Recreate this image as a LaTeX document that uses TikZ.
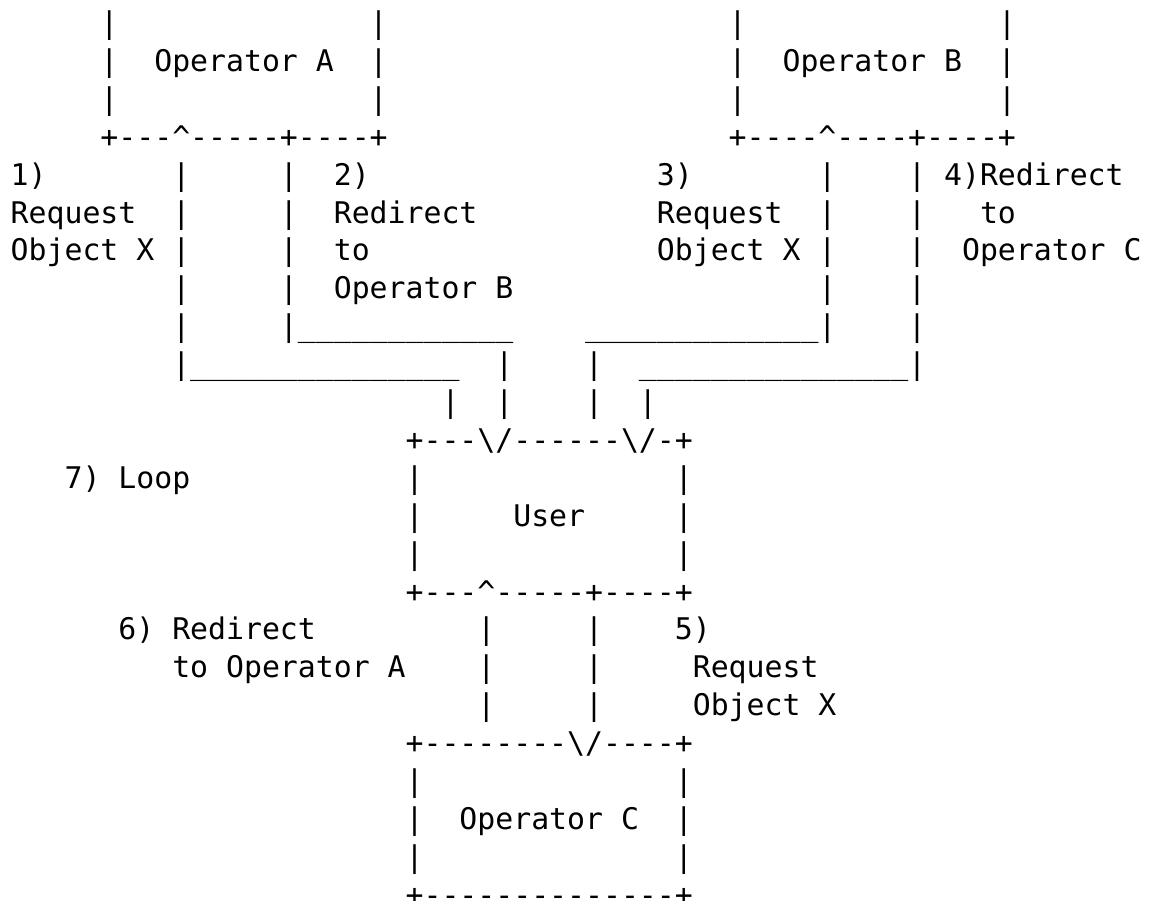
\documentclass[tikz,border=0pt]{standalone}
\usepackage{fontspec}
\setmonofont{DejaVu Sans Mono}
\newcommand\gap[1]{\kern\dimexpr#1\fontdimen2\font\relax}
\newcommand\placeasc[4]{\node[asc] (#1) at ({10.7+17.95*#2},{-33.5-37.9*#3}) {#4};}
\begin{document}
\begin{tikzpicture}[x=1pt,y=1pt,
  asc/.style={anchor=base west,inner sep=0pt,outer sep=0pt,text=black,
    font=\ttfamily\fontsize{29.82pt}{37.9pt}\selectfont}]
\useasboundingbox (0,0) rectangle (1157,-900);
% Operator A box
\placeasc{aR0}{5}{0}{|\gap{14}|}
\placeasc{aR1}{5}{1}{|\gap{2}Operator A\gap{2}|}
\placeasc{aR2}{5}{2}{|\gap{14}|}
\placeasc{aR3}{5}{3}{+---\textasciicircum-----+----+}
% Operator B box
\placeasc{bR0}{40}{0}{|\gap{14}|}
\placeasc{bR1}{40}{1}{|\gap{2}Operator B\gap{2}|}
\placeasc{bR2}{40}{2}{|\gap{14}|}
\placeasc{bR3}{40}{3}{+----\textasciicircum----+----+}
% left connectors
\placeasc{lc4}{9}{4}{|\gap{5}|}
\placeasc{lc5}{9}{5}{|\gap{5}|}
\placeasc{lc6}{9}{6}{|\gap{5}|}
\placeasc{lc7}{9}{7}{|\gap{5}|}
\placeasc{lc8}{9}{8}{|\gap{5}|\_\_\_\_\_\_\_\_\_\_\_\_}
\placeasc{lc9}{9}{9}{|\_\_\_\_\_\_\_\_\_\_\_\_\_\_\_\gap{2}|}
\placeasc{lc10}{24}{10}{|\gap{2}|}
% right connectors
\placeasc{rc4}{45}{4}{|\gap{4}|}
\placeasc{rc5}{45}{5}{|\gap{4}|}
\placeasc{rc6}{45}{6}{|\gap{4}|}
\placeasc{rc7}{45}{7}{|\gap{4}|}
\placeasc{rc8}{32}{8}{\_\_\_\_\_\_\_\_\_\_\_\_\_|\gap{4}|}
\placeasc{rc9}{32}{9}{|\gap{2}\_\_\_\_\_\_\_\_\_\_\_\_\_\_\_|}
\placeasc{rc10}{32}{10}{|\gap{2}|}
% step labels, top
\placeasc{s1a}{0}{4}{1)}
\placeasc{s1b}{0}{5}{Request}
\placeasc{s1c}{0}{6}{Object X}
\placeasc{s2a}{18}{4}{2)}
\placeasc{s2b}{18}{5}{Redirect}
\placeasc{s2c}{18}{6}{to}
\placeasc{s2d}{18}{7}{Operator B}
\placeasc{s3a}{36}{4}{3)}
\placeasc{s3b}{36}{5}{Request}
\placeasc{s3c}{36}{6}{Object X}
\placeasc{s4a}{52}{4}{4)Redirect}
\placeasc{s4b}{54}{5}{to}
\placeasc{s4c}{53}{6}{Operator C}
% User box
\placeasc{uR0}{22}{11}{+---\textbackslash/------\textbackslash/-+}
\placeasc{uR1}{22}{12}{|\gap{14}|}
\placeasc{uR2}{22}{13}{|\gap{5}User\gap{5}|}
\placeasc{uR3}{22}{14}{|\gap{14}|}
\placeasc{uR4}{22}{15}{+---\textasciicircum-----+----+}
\placeasc{s7}{3}{12}{7) Loop}
% lower connectors
\placeasc{dc16}{26}{16}{|\gap{5}|}
\placeasc{dc17}{26}{17}{|\gap{5}|}
\placeasc{dc18}{26}{18}{|\gap{5}|}
\placeasc{s6a}{6}{16}{6) Redirect}
\placeasc{s6b}{9}{17}{to Operator A}
\placeasc{s5a}{37}{16}{5)}
\placeasc{s5b}{38}{17}{Request}
\placeasc{s5c}{38}{18}{Object X}
% Operator C box
\placeasc{cR0}{22}{19}{+--------\textbackslash/----+}
\placeasc{cR1}{22}{20}{|\gap{14}|}
\placeasc{cR2}{22}{21}{|\gap{2}Operator C\gap{2}|}
\placeasc{cR3}{22}{22}{|\gap{14}|}
\placeasc{cR4}{22}{23}{+--------------+}
\end{tikzpicture}
\end{document}
